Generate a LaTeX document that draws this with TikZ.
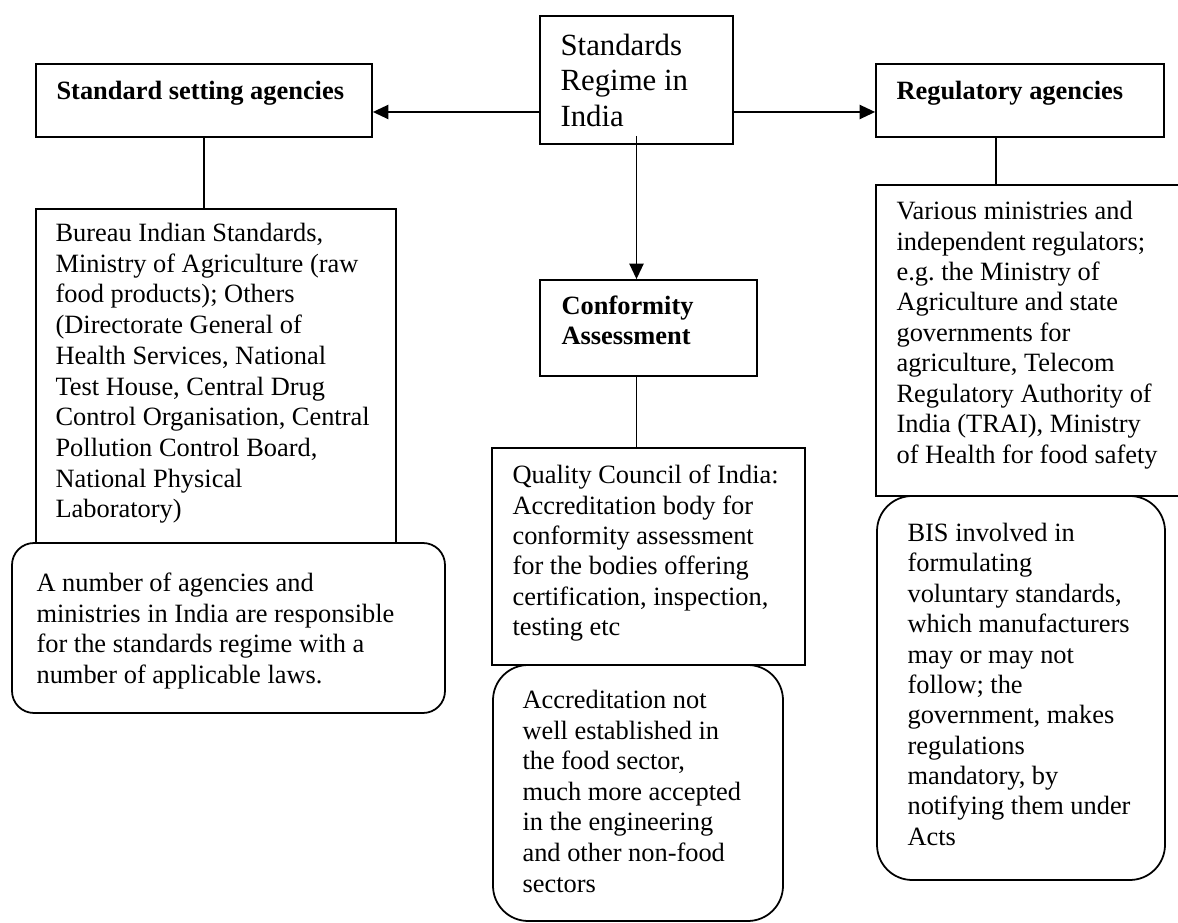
\documentclass[tikz,border=0pt]{standalone}
\usepackage{fontspec}
\setmainfont{Liberation Serif}
\usetikzlibrary{fit,arrows.meta}
\frenchspacing
\newdimen\pxu
\pxu=0.4545pt
\tikzset{
  box/.style={draw, line width=0.8pt, inner sep=0pt},
  rbox/.style={draw, line width=0.8pt, inner sep=0pt, fill=white, rounded corners=#1},
  txt/.style={anchor=north west, inner sep=0pt, align=left, font=\fontsize{12}{#1}\selectfont},
  btxt/.style={anchor=north west, inner sep=0pt, align=left, font=\fontsize{12}{#1}\selectfont\bfseries},
  conn/.style={line width=0.8pt},
  arr/.style={line width=0.8pt, -{Triangle[length=7pt,width=6.4pt]}}
}
\newcommand\st{\rule{0pt}{22\pxu}}
\begin{document}
\begin{tikzpicture}[x=0.4545pt, y=-0.4545pt]
\useasboundingbox (0,0) rectangle (1178,923);
% boxes
\node[box, fit={(540,16) (733,144)}] (center) {};
\node[box, fit={(36,64) (372,137)}] (ssa) {};
\node[box, fit={(876,64) (1164,137)}] (reg) {};
\node[box, fit={(36,209) (396,543)}] (bureau) {};
\node[rbox=10pt, fit={(12,543) (445,713)}] (lnote) {};
\node[box, fit={(540,280) (757,376)}] (conf) {};
\node[box, fit={(492,448) (805,665)}] (qci) {};
\node[rbox=16pt, fit={(493,665) (783,921)}] (cnote) {};
\node[box, fit={(876,185) (1195,496)}] (regt) {};
\node[rbox=16pt, fit={(877,496) (1165,880)}] (bis) {};
% texts
\node[anchor=north west, inner sep=0pt, align=left, font=\fontsize{14}{16.1}\selectfont]
  (center-t) at ([shift={(21,18)}]center.north west) {\st Standards\\Regime in\\India};
\node[btxt=13.9] (ssa-t) at ([shift={(21,14)}]ssa.north west) {\st Standard setting agencies};
\node[btxt=13.9] (reg-t) at ([shift={(21,14)}]reg.north west) {\st Regulatory agencies};
\node[txt=13.95] (bureau-t) at ([shift={(20,11)}]bureau.north west)
  {\st Bureau Indian Standards,\\Ministry of Agriculture (raw\\food products); Others\\(Directorate General of\\Health Services, National\\Test House, Central Drug\\Control Organisation, Central\\Pollution Control Board,\\National Physical\\Laboratory)};
\node[txt=13.9] (lnote-t) at ([shift={(25,27)}]lnote.north west)
  {\st A number of agencies and\\ministries in India are responsible\\for the standards regime with a\\number of applicable laws.};
\node[btxt=13.6] (conf-t) at ([shift={(22,13)}]conf.north west) {\st Conformity\\Assessment};
\node[txt=13.85] (qci-t) at ([shift={(21,14)}]qci.north west)
  {\st Quality Council of India:\\Accreditation body for\\conformity assessment\\for the bodies offering\\certification, inspection,\\testing etc};
\node[txt=13.9] (cnote-t) at ([shift={(30,22)}]cnote.north west)
  {\st Accreditation not\\well established in\\the food sector,\\much more accepted\\in the engineering\\and other non-food\\sectors};
\node[txt=13.85] (regt-t) at ([shift={(21,13)}]regt.north west)
  {\st Various ministries and\\independent regulators;\\e.g.\ the Ministry of\\Agriculture and state\\governments for\\agriculture, Telecom\\Regulatory Authority of\\India (TRAI), Ministry\\of Health for food safety};
\node[txt=13.8] (bis-t) at ([shift={(31,24)}]bis.north west)
  {\st BIS involved in\\formulating\\voluntary standards,\\which manufacturers\\may or may not\\follow; the\\government, makes\\regulations\\mandatory, by\\notifying them under\\Acts};
% connectors
\coordinate (ay) at (0,112);
\coordinate (rl) at (996,0);
\coordinate (dn) at ([yshift=4.1pt]center.south);
\draw[arr] (center.west |- ay) -- (ssa.east |- ay);
\draw[arr] (center.east |- ay) -- (reg.west |- ay);
\draw[arr] (dn) -- (conf.north -| dn);
\draw[conn] (ssa.south) -- (ssa.south |- bureau.north);
\draw[conn] (reg.south -| rl) -- (regt.north -| rl);
\draw[conn] (conf.south -| dn) -- (qci.north -| dn);
\end{tikzpicture}
\end{document}
